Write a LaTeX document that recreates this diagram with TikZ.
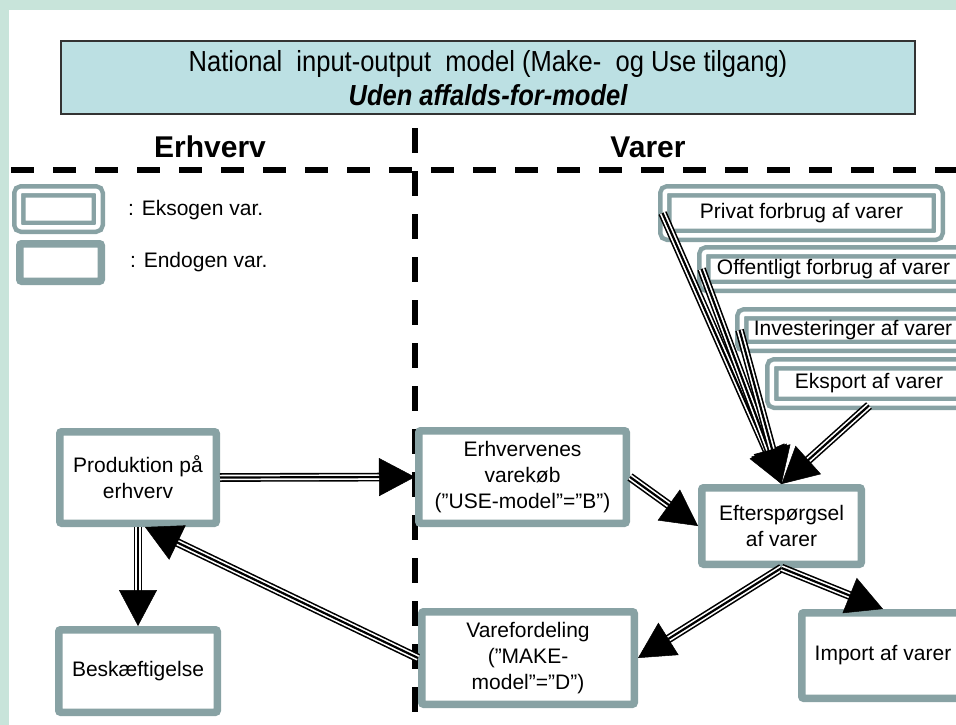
\documentclass[tikz,border=0pt]{standalone}
\usepackage{fontspec}
\setmainfont{Liberation Sans}
\newfontfamily\titlefont{Liberation Sans}[FakeStretch=0.88]
\usetikzlibrary{arrows.meta,calc}
\definecolor{boxc}{RGB}{136,162,164}
\definecolor{titlefill}{RGB}{188,224,227}
\definecolor{mint}{RGB}{200,228,218}
\tikzset{
  boxtext/.style={font=\fontsize{21}{26}\selectfont, align=center, text=black},
  endo/.style={draw=boxc, line width=7.5pt, fill=white, rounded corners=2pt, boxtext},
  exo/.style={draw=boxc, line width=4.5pt, double=white, double distance=4.5pt, fill=white, rounded corners=3pt, boxtext},
  titlebox/.style={draw=black!80, line width=2pt, fill=titlefill},
  head/.style={font=\fontsize{30}{34}\selectfont\bfseries, inner sep=0pt},
  legtext/.style={font=\fontsize{21}{26}\selectfont, inner sep=0pt, anchor=base west},
  hdivider/.style={line width=5.5pt, dash pattern=on 23pt off 19pt},
  vdivider/.style={line width=6pt, dash pattern=on 25pt off 18pt},
  shaftout/.style={draw=black, line width=1.6pt, double=white, double distance=5.5pt, shorten >=33pt},
  shaftin/.style={draw=black, line width=2.2pt, shorten >=33pt},
  tipline/.style={draw=black, line width=0.5pt, -{Triangle[length=36pt,width=38pt]}}
}
\newcommand\dblarrow[2]{%
  \draw[shaftout] #1 -- #2;
  \draw[shaftin] #1 -- #2;
  \draw[tipline] #1 -- #2;
}
\begin{document}
\begin{tikzpicture}[x=1pt,y=-1pt]
\useasboundingbox (0,0) rectangle (956,725);
\fill[mint] (0,0) rectangle (956,725);
\fill[white] (9,10) rectangle (956,725);
\clip (0,0) rectangle (956,725);

% title
\node[titlebox, minimum width=854pt, minimum height=73pt] (title) at (488,77.5) {};
\node[anchor=base, inner sep=0pt] (t1) at (488,72)
  {\titlefont\fontsize{29}{33}\selectfont National\ \ input-output\ \ model (Make-\ \ og Use tilgang)};
\node[anchor=base, inner sep=0pt] (t2) at (488,105)
  {\titlefont\fontsize{29}{33}\selectfont\bfseries\itshape Uden affalds-for-model};

% headers
\node[head, anchor=base] (herhv) at (210,157) {Erhverv};
\node[head, anchor=base] (hvarer) at (648,157) {Varer};

% dividers
\draw[hdivider] (11,170) -- (956,170);
\draw[vdivider] (415,128) -- (415,725);

% legend
\node[exo, minimum width=79.5pt, minimum height=36.5pt] (legexo) at (58.5,209) {};
\node[legtext] (legexot) at (128,215) {: Eksogen var.};
\node[endo, minimum width=81.5pt, minimum height=37.5pt] (legendo) at (60.5,262.5) {};
\node[legtext] (legendot) at (130,267) {: Endogen var.};

% endogenous boxes
\node[endo, minimum width=156.5pt, minimum height=91.5pt] (prod) at (138,477.5) {Produktion på\\erhverv};
\node[endo, minimum width=158.5pt, minimum height=82.5pt] (besk) at (138,671) {Beskæftigelse};
\node[endo, minimum width=207.5pt, minimum height=92.5pt] (erhv) at (522.5,477) {Erhvervenes\\varekøb\\(\char"201D USE-model\char"201D =\char"201D B\char"201D )};
\node[endo, minimum width=159.5pt, minimum height=76.5pt] (eft) at (781.5,526) {Efterspørgsel\\af varer};
\node[endo, minimum width=212.5pt, minimum height=92.5pt] (vfd) at (528,658) {Varefordeling\\(\char"201D MAKE-\\model\char"201D =\char"201D D\char"201D )};
\node[endo, minimum width=162.5pt, minimum height=85.5pt] (imp) at (883,655.5) {Import af varer};

% exogenous boxes
\node[exo, minimum width=273.5pt, minimum height=44.5pt] (priv) at (801.5,213) {Privat forbrug af varer};
\node[exo, minimum width=259.5pt, minimum height=34.5pt] (off) at (833.5,269) {Offentligt forbrug af varer};
\node[exo, minimum width=222.5pt, minimum height=32.5pt] (inv) at (853,330) {Investeringer af varer};
\node[exo, minimum width=194.5pt, minimum height=39.5pt] (eks) at (869,383.5) {Eksport af varer};

% connectors
\dblarrow{(prod.east)}{(erhv.west)}
\dblarrow{(prod.south)}{(besk.north)}
\dblarrow{(vfd.west)}{($(prod.south)+(7,0)$)}
\dblarrow{(erhv.east)}{(eft.west)}
\dblarrow{(eft.south)}{(vfd.east)}
\dblarrow{(eft.south)}{(imp.north)}
\dblarrow{(priv.west)}{(eft.north)}
\dblarrow{(off.west)}{(eft.north)}
\dblarrow{(inv.west)}{(eft.north)}
\dblarrow{(eks.south)}{(eft.north)}
\end{tikzpicture}
\end{document}
